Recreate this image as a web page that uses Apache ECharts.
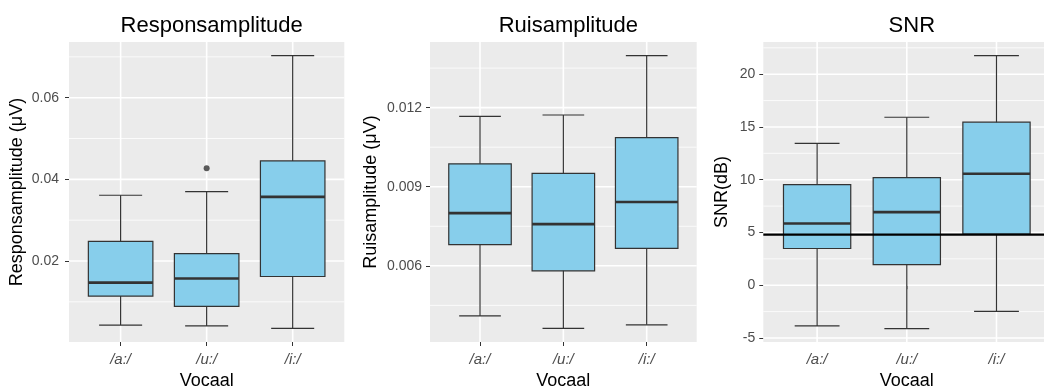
<!DOCTYPE html>
<html>
<head>
<meta charset="utf-8">
<script src="https://cdn.jsdelivr.net/npm/echarts@6/dist/echarts.min.js"></script>
<style>
  html, body { margin: 0; padding: 0; background: #ffffff; }
  #chart { width: 1044px; height: 389px; }
</style>
</head>
<body>
<div id="chart"></div>
<script>
// Vowel categories on the x axis
const vowels = ['/a:/', '/u:/', '/i:/'];

// Box statistics per vowel: [lower whisker, Q1, median, Q3, upper whisker]
const responsBoxes = [
  [0.0043, 0.0114, 0.0147, 0.0248, 0.0361],
  [0.0041, 0.0089, 0.0157, 0.0218, 0.0370],
  [0.0035, 0.0162, 0.0357, 0.0445, 0.0703]
];
// Outliers: [vowel position (1-based), value]
const responsOutliers = [[2, 0.0427]];

const ruisBoxes = [
  [0.00410, 0.00680, 0.00800, 0.00987, 0.01167],
  [0.00363, 0.00581, 0.00758, 0.00951, 0.01172],
  [0.00376, 0.00666, 0.00842, 0.01086, 0.01397]
];

const snrBoxes = [
  [-3.86, 3.48, 5.85, 9.53, 13.45],
  [-4.12, 1.95, 6.93, 10.19, 15.92],
  [-2.47, 4.84, 10.57, 15.45, 21.75]
];
// Horizontal reference level in the SNR panel
const snrReference = 4.8;

// Tick values (major, labelled) and minor gridline values per panel
const responsTicks = [0.02, 0.04, 0.06];
const responsMinor = [0.01, 0.03, 0.05, 0.07];
const ruisTicks = [0.006, 0.009, 0.012];
const ruisMinor = [0.0045, 0.0075, 0.0105, 0.0135];
const snrTicks = [-5, 0, 5, 10, 15, 20];
const snrMinor = [-2.5, 2.5, 7.5, 12.5, 17.5, 22.5];

// Y ranges (data range plus 5% padding)
const responsRange = [0.00016, 0.07364];
const ruisRange = [0.00311, 0.01449];
const snrRange = [-5.38, 23.05];

const FONT = '"Liberation Sans", Arial, sans-serif';
const BOX_FILL = '#87CEEB';
const INK = '#333333';
const positions = vowels.map((_, i) => i + 1);

const panels = [
  { title: 'Responsamplitude', yName: 'Responsamplitude (\u03BCV)', boxes: responsBoxes,
    ticks: responsTicks, minor: responsMinor, range: responsRange,
    grid: { left: 69, top: 42, width: 275.3, height: 300 }, nameGap: 43, labelMargin: 10 },
  { title: 'Ruisamplitude', yName: 'Ruisamplitude (\u03BCV)', boxes: ruisBoxes,
    ticks: ruisTicks, minor: ruisMinor, range: ruisRange,
    grid: { left: 430, top: 42, width: 266.7, height: 300 }, nameGap: 50, labelMargin: 8 },
  { title: 'SNR', yName: 'SNR(dB)', boxes: snrBoxes,
    ticks: snrTicks, minor: snrMinor, range: snrRange,
    grid: { left: 763.3, top: 42, width: 287, height: 300 }, nameGap: 32, labelMargin: 8 }
];

// Gridlines: [orientation (0 = horizontal, 1 = vertical), value, major flag]
function gridData(p) {
  const rows = [];
  p.minor.forEach(v => rows.push([0, v, 0]));
  p.ticks.forEach(v => rows.push([0, v, 1]));
  positions.forEach(v => rows.push([1, v, 1]));
  return rows;
}

function renderGridLine(params, api) {
  const cs = params.coordSys;
  const horiz = api.value(0) === 0;
  const v = api.value(1);
  const major = api.value(2) === 1;
  const style = { stroke: '#ffffff', lineWidth: major ? 1.6 : 0.8 };
  if (horiz) {
    const y = api.coord([2, v])[1];
    return { type: 'line', shape: { x1: cs.x, y1: y, x2: cs.x + cs.width, y2: y }, style };
  }
  const x = api.coord([v, 0])[0];
  return { type: 'line', shape: { x1: x, y1: cs.y, x2: x, y2: cs.y + cs.height }, style };
}

function renderBox(params, api) {
  const x = api.value(0);
  const lo = api.coord([x, api.value(1)]);
  const q1 = api.coord([x, api.value(2)]);
  const md = api.coord([x, api.value(3)]);
  const q3 = api.coord([x, api.value(4)]);
  const hi = api.coord([x, api.value(5)]);
  const unit = api.size([1, 0])[0];
  const bw = unit * 0.75;
  const cw = unit * 0.5;
  const cx = lo[0];
  const thin = { stroke: INK, lineWidth: 1.2 };
  return {
    type: 'group',
    children: [
      { type: 'line', shape: { x1: cx, y1: lo[1], x2: cx, y2: hi[1] }, style: thin },
      { type: 'line', shape: { x1: cx - cw / 2, y1: lo[1], x2: cx + cw / 2, y2: lo[1] }, style: thin },
      { type: 'line', shape: { x1: cx - cw / 2, y1: hi[1], x2: cx + cw / 2, y2: hi[1] }, style: thin },
      { type: 'rect', shape: { x: cx - bw / 2, y: q3[1], width: bw, height: q1[1] - q3[1] },
        style: { fill: BOX_FILL, stroke: INK, lineWidth: 1.2 } },
      { type: 'line', shape: { x1: cx - bw / 2, y1: md[1], x2: cx + bw / 2, y2: md[1] },
        style: { stroke: INK, lineWidth: 2.6 } }
    ]
  };
}

function renderHLine(params, api) {
  const cs = params.coordSys;
  const y = api.coord([2, api.value(0)])[1];
  return { type: 'line', shape: { x1: cs.x, y1: y, x2: cs.x + cs.width, y2: y },
    style: { stroke: '#000000', lineWidth: 2.2 } };
}

const option = {
  animation: false,
  backgroundColor: '#ffffff',
  title: [],
  grid: [],
  xAxis: [],
  yAxis: [],
  series: []
};

panels.forEach((p, i) => {
  option.title.push({
    text: p.title,
    left: p.grid.left + p.grid.width / 2,
    top: 10,
    textAlign: 'center',
    textStyle: { fontFamily: FONT, fontSize: 22, fontWeight: 'normal', color: '#000000' }
  });
  option.grid.push(Object.assign({
    show: true, backgroundColor: '#EBEBEB', borderWidth: 0,
    containLabel: false, outerBoundsMode: 'none'
  }, p.grid));
  option.xAxis.push({
    gridIndex: i,
    type: 'value',
    min: 0.4,
    max: 3.6,
    name: 'Vocaal',
    nameLocation: 'middle',
    nameGap: 28,
    nameTextStyle: { fontFamily: FONT, fontSize: 18, color: '#000000' },
    axisLine: { show: false },
    splitLine: { show: false },
    axisTick: { show: true, length: 4, customValues: positions, lineStyle: { color: INK, width: 1 } },
    axisLabel: {
      customValues: positions,
      margin: 10,
      fontFamily: FONT,
      fontSize: 15,
      fontStyle: 'italic',
      color: '#4D4D4D',
      formatter: v => vowels[Math.round(v) - 1]
    }
  });
  option.yAxis.push({
    gridIndex: i,
    type: 'value',
    min: p.range[0],
    max: p.range[1],
    name: p.yName,
    nameLocation: 'middle',
    nameGap: p.nameGap,
    nameTextStyle: { fontFamily: FONT, fontSize: 18, color: '#000000' },
    axisLine: { show: false },
    splitLine: { show: false },
    axisTick: { show: true, length: 4, customValues: p.ticks, lineStyle: { color: INK, width: 1 } },
    axisLabel: {
      customValues: p.ticks,
      margin: p.labelMargin,
      fontFamily: FONT,
      fontSize: 14,
      color: '#4D4D4D',
      formatter: v => String(v)
    }
  });
  option.series.push({
    type: 'custom',
    name: 'grid-' + i,
    xAxisIndex: i,
    yAxisIndex: i,
    silent: true,
    z: 1,
    renderItem: renderGridLine,
    data: gridData(p)
  });
  option.series.push({
    type: 'custom',
    name: p.title,
    xAxisIndex: i,
    yAxisIndex: i,
    z: 3,
    encode: { x: 0, y: [1, 2, 3, 4, 5] },
    renderItem: renderBox,
    data: p.boxes.map((b, k) => [positions[k]].concat(b))
  });
});

// Outlier points in the first panel
option.series.push({
  type: 'scatter',
  xAxisIndex: 0,
  yAxisIndex: 0,
  z: 4,
  symbolSize: 6,
  itemStyle: { color: INK },
  data: responsOutliers
});

// Reference level across the SNR panel
option.series.push({
  type: 'custom',
  xAxisIndex: 2,
  yAxisIndex: 2,
  z: 5,
  silent: true,
  renderItem: renderHLine,
  data: [[snrReference]]
});

const chart = echarts.init(document.getElementById('chart'), null, { renderer: 'canvas' });
chart.setOption(option);
</script>
</body>
</html>
